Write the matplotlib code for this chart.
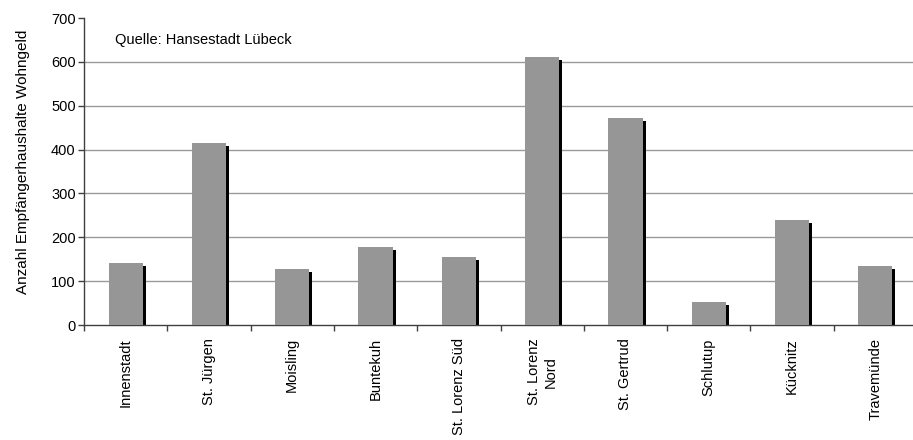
# Wohngeld-Empfängerhaushalte nach Stadtteil

import numpy as np
import matplotlib.pyplot as plt

plt.rcParams['font.family'] = ['Liberation Sans', 'DejaVu Sans']

# Daten
stadtteile = ['Innenstadt', 'St. Jürgen', 'Moisling', 'Buntekuh', 'St. Lorenz Süd',
              'St. Lorenz\nNord', 'St. Gertrud', 'Schlutup', 'Kücknitz', 'Travemünde']
haushalte = [141, 416, 128, 178, 155, 611, 471, 52, 239, 134]
y_ticks = [0, 100, 200, 300, 400, 500, 600, 700]

fig = plt.figure(figsize=(9.13, 4.4), dpi=100)
ax = fig.add_axes([84/913, 115/440, 833/913, 307/440])

x = np.arange(len(stadtteile))
werte = np.array(haushalte)

# Schatten (3 px nach rechts, 3 px nach unten)
dx = 3 / 83.3
dy = 3 * 700 / 307
ax.bar(x + dx, np.maximum(werte - dy, 0), width=0.41, color='black', zorder=2)
ax.bar(x, werte, width=0.41, color='#969696', zorder=3)

ax.set_xlim(-0.5, 9.5)
ax.set_ylim(0, 700)
ax.set_yticks(y_ticks)
for v in y_ticks[1:-1]:
    ax.axhline(v, color='#9a9a9a', lw=1, zorder=1)

ax.set_xticks(x, stadtteile, rotation=90, ha='center', va='top', fontsize=10.5,
              linespacing=1.3)
ax.set_xticks(np.arange(-0.5, 10, 1), minor=True)
ax.tick_params(axis='x', which='major', length=0, pad=9.5)
ax.tick_params(axis='x', which='minor', length=4, width=1, color='#404040')
ax.tick_params(axis='y', length=4, width=1, color='#404040', labelsize=10.5, pad=2)

for s in ['top', 'right']:
    ax.spines[s].set_visible(False)
for s in ['left', 'bottom']:
    ax.spines[s].set_color('#404040')
    ax.spines[s].set_linewidth(1)

ax.set_ylabel('Anzahl Empfängerhaushalte Wohngeld', fontsize=11)
ax.yaxis.set_label_coords(-54/833, 0.53)
fig.text(115/913, 1 - 40/440, 'Quelle: Hansestadt Lübeck', fontsize=10.5, va='center')

fig.savefig('out.png', dpi=100)
